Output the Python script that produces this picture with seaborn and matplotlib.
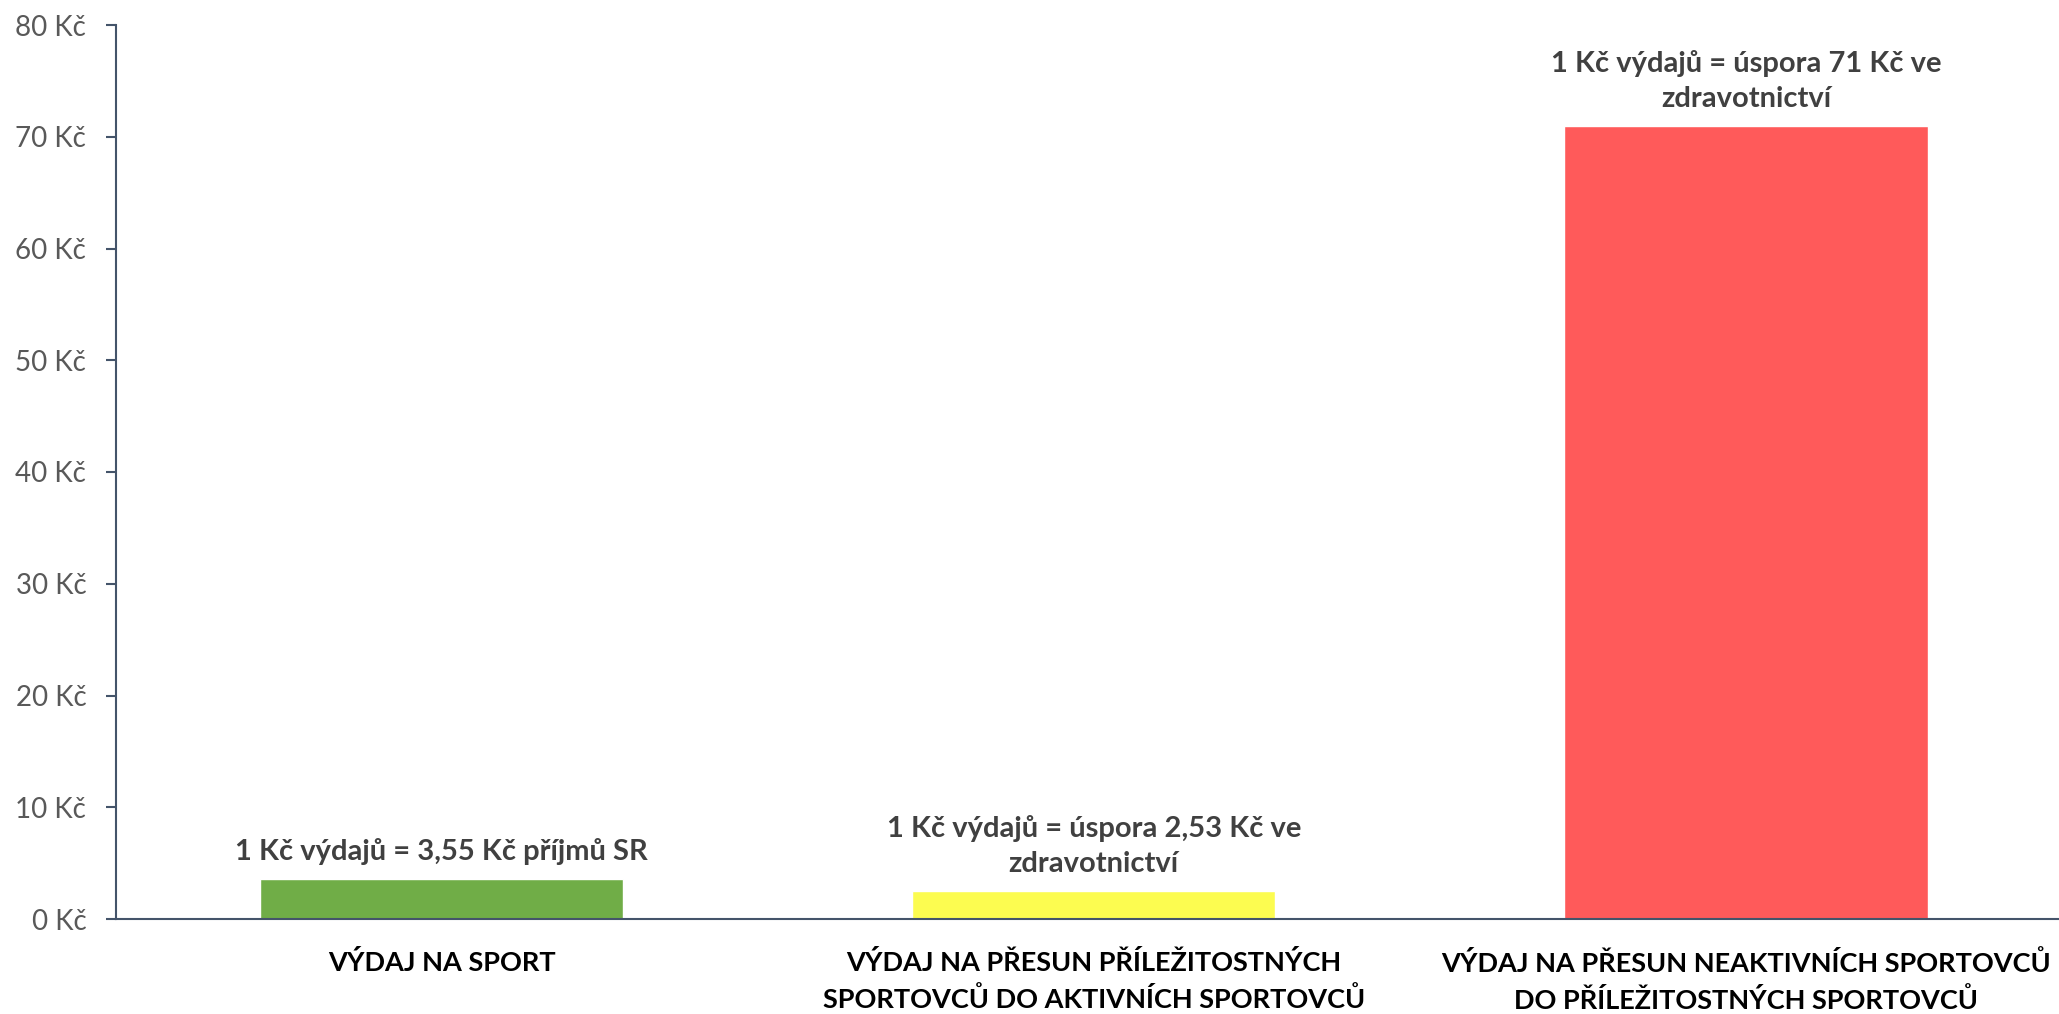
import matplotlib
matplotlib.use("Agg")
import matplotlib.pyplot as plt
import seaborn as sns
import pandas as pd

categories = ["VÝDAJ NA SPORT",
              "VÝDAJ NA PŘESUN PŘÍLEŽITOSTNÝCH\nSPORTOVCŮ DO AKTIVNÍCH SPORTOVCŮ",
              "VÝDAJ NA PŘESUN NEAKTIVNÍCH SPORTOVCŮ\nDO PŘÍLEŽITOSTNÝCH SPORTOVCŮ"]
values = [3.55, 2.53, 71]
annotations = ["1 Kč výdajů = 3,55 Kč příjmů SR",
               "1 Kč výdajů = úspora 2,53 Kč ve\nzdravotnictví",
               "1 Kč výdajů = úspora 71 Kč ve\nzdravotnictví"]
colors = ["#70AD47", "#FCFC50", "#FF5A5A"]
yticks = [0, 10, 20, 30, 40, 50, 60, 70, 80]

sns.set_theme(style="white")
plt.rcParams['font.family'] = ['Lato', 'DejaVu Sans']

fig = plt.figure(figsize=(20.59, 10.14), dpi=100)
ax = fig.add_axes([115.5 / 2059, 1 - 919 / 1014, 1 - 115.5 / 2059, (919 - 25) / 1014])

df = pd.DataFrame({"cat": categories, "val": values})
sns.barplot(data=df, x="cat", y="val", hue="cat", palette=colors, width=0.557,
            legend=False, ax=ax, saturation=1)

ax.set_xlim(-0.5, 2.48)
ax.set_ylim(0, 80)
ax.set_yticks(yticks)
ax.set_yticklabels([f"{v} Kč" for v in yticks], fontsize=20, color="#595959")
ax.set_xlabel("")
ax.set_ylabel("")
for lbl in ax.get_xticklabels():
    lbl.set_fontsize(19.5)
    lbl.set_fontweight("bold")
    lbl.set_color("black")
    lbl.set_linespacing(1.5)
ax.tick_params(axis="x", length=0, pad=22)
ax.tick_params(axis="y", length=7, width=1.5, color="#44546A", pad=14, left=True)

for s in ["top", "right"]:
    ax.spines[s].set_visible(False)
for s in ["left", "bottom"]:
    ax.spines[s].set_color("#44546A")
    ax.spines[s].set_linewidth(1.5)

for i, (v, t) in enumerate(zip(values, annotations)):
    ax.annotate(t, xy=(i, v), xytext=(0, 10), textcoords="offset points",
                ha="center", va="bottom", fontsize=21, fontweight="bold",
                color="#404040", linespacing=1.4)

fig.savefig("out.png", dpi=100)
